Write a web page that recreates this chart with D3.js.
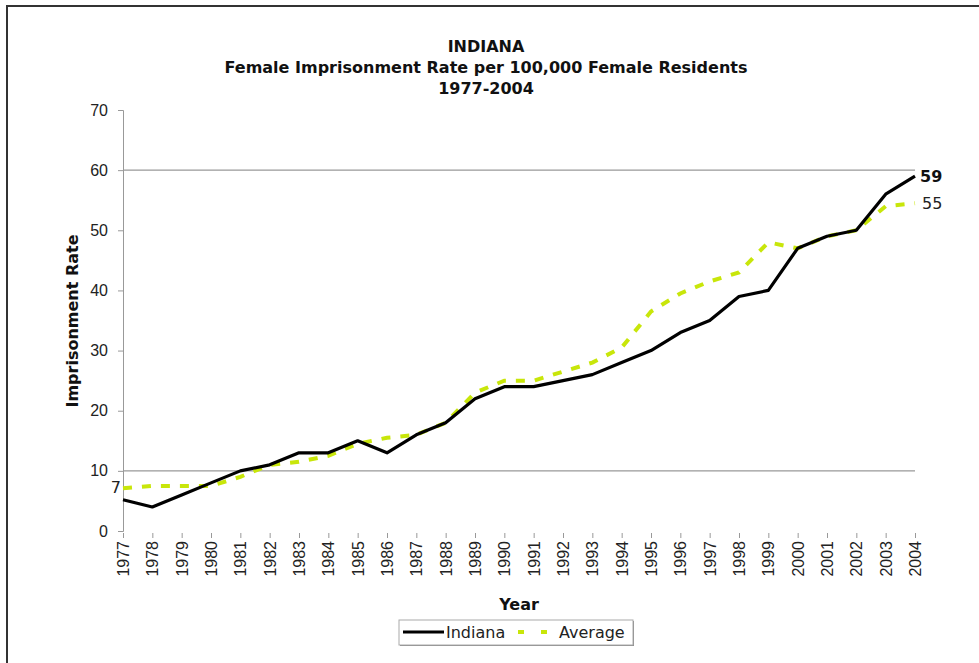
<!DOCTYPE html>
<html>
<head>
<meta charset="utf-8">
<script src="https://cdn.jsdelivr.net/npm/d3@7"></script>
<style>
  body { margin: 0; background: #fff; }
  svg { display: block; font-family: "DejaVu Sans", Verdana, sans-serif; }
</style>
</head>
<body>
<div id="chart"></div>
<script>
const years = d3.range(1977, 2005);
const indiana = [5.2, 4, 6, 8, 10, 11, 13, 13, 15, 13, 16, 18, 22, 24, 24, 25, 26, 28, 30, 33, 35, 39, 40, 47, 49, 50, 56, 59];
const average = [7.1, 7.5, 7.5, 7.5, 9, 11, 11.5, 12.5, 14.5, 15.5, 16, 18, 23, 25, 25, 26.5, 28, 30.5, 36.5, 39.5, 41.5, 43, 48, 47, 49, 50, 54, 54.5];
const yTicks = [0, 10, 20, 30, 40, 50, 60, 70];
const gridValues = [10, 60];
const titleLines = ["INDIANA", "Female Imprisonment Rate per 100,000 Female Residents", "1977-2004"];

const W = 979, H = 663;
const margin = { top: 110, right: 64, bottom: 132, left: 123 };
const width = W - margin.left - margin.right;
const height = H - margin.top - margin.bottom;

const svg = d3.select("#chart").append("svg")
  .attr("width", W)
  .attr("height", H);

// outer frame
svg.append("rect")
  .attr("x", 7).attr("y", 6)
  .attr("width", W).attr("height", H)
  .attr("fill", "none")
  .attr("stroke", "#333")
  .attr("stroke-width", 2);

// title
svg.append("g").selectAll("text")
  .data(titleLines)
  .join("text")
  .attr("x", 486)
  .attr("y", (d, i) => 52 + i * 21)
  .attr("text-anchor", "middle")
  .style("font-size", "16px")
  .attr("font-weight", "bold")
  .attr("fill", "#111")
  .text(d => d);

const g = svg.append("g")
  .attr("transform", `translate(${margin.left},${margin.top})`);

const x = d3.scalePoint().domain(years).range([0, width]);
const y = d3.scaleLinear().domain([0, 70]).range([height, 0]);

// gridlines
g.selectAll("line.grid")
  .data(gridValues)
  .join("line")
  .attr("class", "grid")
  .attr("x1", 0).attr("x2", width)
  .attr("y1", d => y(d)).attr("y2", d => y(d))
  .attr("stroke", "#999")
  .attr("stroke-width", 1.2);

// Y axis
const yAxis = g.append("g")
  .call(d3.axisLeft(y).tickValues(yTicks).tickSize(5).tickPadding(10));
yAxis.select(".domain").attr("stroke", "#999");
yAxis.selectAll(".tick line").attr("stroke", "#999");
yAxis.selectAll(".tick text")
  .style("font-size", "16px")
  .attr("fill", "#222");

// X axis
const xAxis = g.append("g")
  .attr("transform", `translate(0,${height})`)
  .call(d3.axisBottom(x).tickSize(6).tickPadding(4));
xAxis.select(".domain").remove();
xAxis.selectAll(".tick line").attr("stroke", "#999").attr("y1", 2).attr("y2", 7);
xAxis.selectAll(".tick text")
  .style("font-size", "16px")
  .attr("fill", "#222")
  .attr("transform", "rotate(-90)")
  .attr("text-anchor", "end")
  .attr("dx", "-10px")
  .attr("dy", "0.35em")
  .attr("x", 0)
  .attr("y", 0);

// axis titles
svg.append("text")
  .attr("transform", "rotate(-90)")
  .attr("x", -321)
  .attr("y", 78)
  .attr("text-anchor", "middle")
  .style("font-size", "16px")
  .attr("font-weight", "bold")
  .attr("fill", "#111")
  .text("Imprisonment Rate");

svg.append("text")
  .attr("x", 519)
  .attr("y", 610)
  .attr("text-anchor", "middle")
  .style("font-size", "16px")
  .attr("font-weight", "bold")
  .attr("fill", "#111")
  .text("Year");

const line = d3.line()
  .x((d, i) => x(years[i]))
  .y(d => y(d));

g.append("path")
  .datum(average)
  .attr("fill", "none")
  .attr("stroke", "#c8e60a")
  .attr("stroke-width", 4)
  .attr("stroke-dasharray", "9,10")
  .attr("d", line);

g.append("path")
  .datum(indiana)
  .attr("fill", "none")
  .attr("stroke", "#000")
  .attr("stroke-width", 3.2)
  .attr("stroke-linejoin", "round")
  .attr("d", line);

// end labels
const last = years.length - 1;
g.append("text")
  .attr("x", x(years[last]) + 5)
  .attr("y", y(indiana[last]) + 6)
  .style("font-size", "16px")
  .attr("font-weight", "bold")
  .attr("fill", "#111")
  .text(indiana[last]);

g.append("text")
  .attr("x", x(years[last]) + 7)
  .attr("y", y(average[last]) + 6)
  .style("font-size", "16px")
  .attr("fill", "#222")
  .text(Math.round(average[last]));

g.append("text")
  .attr("x", -2)
  .attr("y", y(average[0]) + 5)
  .attr("text-anchor", "end")
  .style("font-size", "16px")
  .attr("fill", "#222")
  .text(Math.round(average[0]));

// legend
const legend = svg.append("g").attr("transform", "translate(399,620)");
legend.append("rect")
  .attr("x", 1).attr("y", 1)
  .attr("width", 234).attr("height", 25)
  .attr("fill", "#888");
legend.append("rect")
  .attr("width", 234).attr("height", 25)
  .attr("fill", "#fff")
  .attr("stroke", "#aaa");
legend.append("line")
  .attr("x1", 4).attr("x2", 45)
  .attr("y1", 12).attr("y2", 12)
  .attr("stroke", "#000").attr("stroke-width", 3.2);
legend.append("text")
  .attr("x", 47).attr("y", 18)
  .style("font-size", "16px").attr("fill", "#222")
  .text("Indiana");
legend.append("line")
  .attr("x1", 119).attr("x2", 150)
  .attr("y1", 12).attr("y2", 12)
  .attr("stroke", "#c8e60a").attr("stroke-width", 4)
  .attr("stroke-dasharray", "6,17");
legend.append("text")
  .attr("x", 160).attr("y", 18)
  .style("font-size", "16px").attr("fill", "#222")
  .text("Average");
</script>
</body>
</html>
